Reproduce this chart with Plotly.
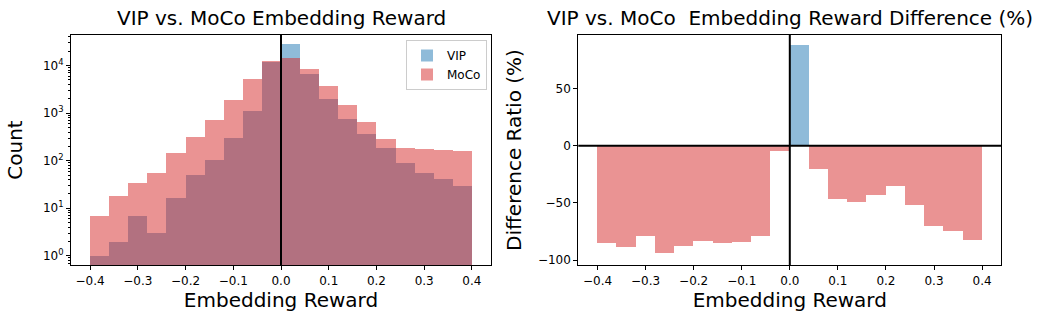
import plotly.graph_objects as go

# histogram bins (left edges are -0.4 ... 0.36, width 0.04)
bin_centers = [-0.38, -0.34, -0.30, -0.26, -0.22, -0.18, -0.14, -0.10, -0.06, -0.02,
               0.02, 0.06, 0.10, 0.14, 0.18, 0.22, 0.26, 0.30, 0.34, 0.38]
vip_counts = [1, 2, 7, 3, 17, 52, 105, 300, 1100, 12200,
              28300, 6900, 2000, 760, 366, 186, 89, 55, 42, 30]
moco_counts = [7, 18, 34, 55, 145, 320, 720, 1950, 5300, 12700,
               15000, 8600, 3700, 1480, 650, 285, 185, 182, 168, 165]
# difference ratio (%)
diff_ratio = [-85, -88.5, -78.5, -93.8, -87.8, -82.6, -85, -84.2, -78.3, -4,
              88.7, -20, -46, -48.7, -43.2, -34.8, -51.9, -69.6, -74.5, -81.7]

x_ticks = [-0.4, -0.3, -0.2, -0.1, 0.0, 0.1, 0.2, 0.3, 0.4]
x_ticktext = ["\u22120.4", "\u22120.3", "\u22120.2", "\u22120.1", "0.0", "0.1", "0.2", "0.3", "0.4"]

VIP_COLOR = "rgba(31,119,180,0.5)"
MOCO_COLOR = "rgba(214,39,40,0.5)"
FONT = "DejaVu Sans"

W, H = 1052, 324
ML, MR, MT, MB = 60, 40, 30, 50
PW, PH = W - ML - MR, H - MT - MB


def px_x(p):
    return (p - ML) / PW


def px_y(p):
    return (H - MB - p) / PH


fig = go.Figure()

fig.add_trace(go.Bar(x=bin_centers, y=vip_counts, width=0.04, name="VIP",
                     marker=dict(color=VIP_COLOR, line_width=0), xaxis="x", yaxis="y"))
fig.add_trace(go.Bar(x=bin_centers, y=moco_counts, width=0.04, name="MoCo",
                     marker=dict(color=MOCO_COLOR, line_width=0), xaxis="x", yaxis="y"))

bar_colors = [VIP_COLOR if v > 0 else MOCO_COLOR for v in diff_ratio]
fig.add_trace(go.Bar(x=bin_centers, y=diff_ratio, width=0.04, showlegend=False,
                     marker=dict(color=bar_colors, line_width=0), xaxis="x2", yaxis="y2"))

axis_common = dict(showline=True, linecolor="black", linewidth=1, mirror=True,
                   ticks="outside", ticklen=4, tickcolor="black", showgrid=False,
                   zeroline=False, automargin=False, tickfont=dict(size=12, color="black"))

major = [1, 10, 100, 1000, 10000]
major_text = ["10<sup>0</sup>", "10<sup>1</sup>", "10<sup>2</sup>", "10<sup>3</sup>", "10<sup>4</sup>"]
minor_vals = [m * 10 ** k for k in range(-1, 5) for m in range(2, 10)]

y_dom = [px_y(265.3), px_y(34.7)]

fig.update_layout(
    width=W, height=H,
    margin=dict(l=ML, r=MR, t=MT, b=MB),
    paper_bgcolor="white", plot_bgcolor="white",
    font=dict(family=FONT, color="black"),
    barmode="overlay",
    bargap=0,
    xaxis=dict(domain=[px_x(71), px_x(491)], range=[-0.44, 0.44],
               tickvals=x_ticks, ticktext=x_ticktext, anchor="y",
               title=dict(text="Embedding Reward", font=dict(size=20), standoff=2),
               **axis_common),
    yaxis=dict(domain=y_dom, type="log", range=[-0.2, 4.65], anchor="x",
               tickvals=major, ticktext=major_text,
               minor=dict(tickvals=minor_vals, ticks="outside", ticklen=2,
                          tickcolor="black", showgrid=False),
               title=dict(text="Count", font=dict(size=20), standoff=14),
               **axis_common),
    xaxis2=dict(domain=[px_x(578.3), px_x(1001.3)], range=[-0.44, 0.44],
                tickvals=x_ticks, ticktext=x_ticktext, anchor="y2",
                title=dict(text="Embedding Reward", font=dict(size=20), standoff=2),
                **axis_common),
    yaxis2=dict(domain=y_dom, range=[-104.5, 97], anchor="x2",
                tickvals=[-100, -50, 0, 50], ticktext=["\u2212100", "\u221250", "0", "50"],
                title=dict(text="Difference Ratio (%)", font=dict(size=20), standoff=10),
                **axis_common),
    legend=dict(x=px_x(487), xanchor="right", y=px_y(40), yanchor="top",
                bgcolor="rgba(255,255,255,0.8)", bordercolor="#cccccc", borderwidth=1,
                font=dict(size=12), tracegroupgap=2),
    annotations=[
        dict(text="VIP vs. MoCo Embedding Reward", x=px_x(281), y=px_y(18),
             xanchor="center", yanchor="middle",
             xref="paper", yref="paper", showarrow=False, font=dict(size=20)),
        dict(text="VIP vs. MoCo  Embedding Reward Difference (%)", x=px_x(790), y=px_y(18),
             xanchor="center", yanchor="middle",
             xref="paper", yref="paper", showarrow=False, font=dict(size=20)),
    ],
    shapes=[
        dict(type="line", xref="x", yref="y domain", x0=0, x1=0, y0=0, y1=1,
             line=dict(color="black", width=2)),
        dict(type="line", xref="x2", yref="y2 domain", x0=0, x1=0, y0=0, y1=1,
             line=dict(color="black", width=2)),
        dict(type="line", xref="x2 domain", yref="y2", x0=0, x1=1, y0=0, y1=0,
             line=dict(color="black", width=2)),
    ],
)

# drop the browser's default 8px page margin so the figure sits at the window origin
fig.write_html("out.html", config={"displayModeBar": False},
               post_script="document.body.style.margin='0px';")
